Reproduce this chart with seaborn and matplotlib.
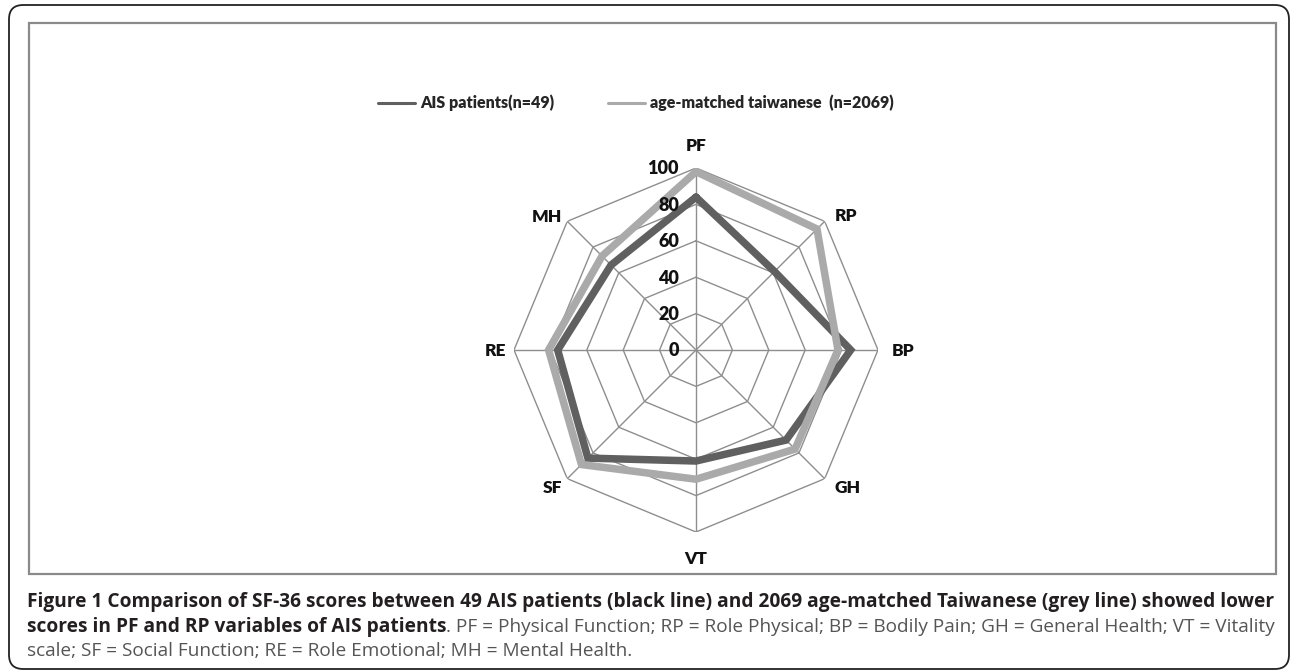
import numpy as np
import pandas as pd
import matplotlib
matplotlib.use("Agg")
import matplotlib.pyplot as plt
import seaborn as sns
from matplotlib.patches import FancyBboxPatch, Rectangle
from matplotlib.lines import Line2D
from matplotlib.transforms import offset_copy

# ---------------- data ----------------
categories = ["PF", "RP", "BP", "GH", "VT", "SF", "RE", "MH"]
ais_values = [84, 61, 85, 70, 61, 84, 76, 66]
taiwan_values = [98, 94, 78, 77, 71, 89, 81, 73]
series_names = ["AIS patients(n=49)", "age-matched taiwanese  (n=2069)"]
r_ticks = [0, 20, 40, 60, 80, 100]

caption_bold_1 = ("Figure 1 Comparison of SF-36 scores between 49 AIS patients (black line) "
                  "and 2069 age-matched Taiwanese (grey line) showed lower")
caption_bold_2 = "scores in PF and RP variables of AIS patients"
caption_norm_2 = (". PF = Physical Function; RP = Role Physical; BP = Bodily Pain; "
                  "GH = General Health; VT = Vitality")
caption_norm_3 = "scale; SF = Social Function; RE = Role Emotional; MH = Mental Health."

# ---------------- style ----------------
sns.set_theme(style="white")
plt.rcParams['font.family'] = ['Lato', 'DejaVu Sans']

W, H = 1292, 672
fig = plt.figure(figsize=(W / 100, H / 100), dpi=100)
fig.patch.set_facecolor("white")

DARK = "#606060"
LIGHT = "#aaaaaa"
GRID = "#8e8e8e"

# frames
outer = FancyBboxPatch((9 / W, 3 / H), 1280 / W, 664 / H,
                       boxstyle="round,pad=0,rounding_size=0.011",
                       transform=fig.transFigure, fill=False,
                       edgecolor="#222222", lw=1.3, mutation_aspect=W / H)
fig.patches.append(outer)
inner = Rectangle((29 / W, (H - 574) / H), (1276 - 29) / W, (574 - 23) / H,
                  transform=fig.transFigure, fill=False, edgecolor="#8a8a8a", lw=1.6)
fig.patches.append(inner)

# radar axes
cx, cy, R = 696, 350, 182
ax = fig.add_axes([(cx - R) / W, (H - cy - R) / H, 2 * R / W, 2 * R / H],
                  projection="polar")
ax.set_theta_zero_location("N")
ax.set_theta_direction(-1)
ax.patch.set_alpha(0)

n = len(categories)
theta = np.linspace(0, 2 * np.pi, n, endpoint=False)
theta_closed = np.append(theta, 2 * np.pi)

for t in r_ticks[1:]:
    ax.plot(theta_closed, [t] * (n + 1), color=GRID, lw=1.0, zorder=1)
for th in theta:
    ax.plot([th, th], [0, r_ticks[-1]], color=GRID, lw=1.0, zorder=1)

rows = []
for name, vals in zip(series_names, [ais_values, taiwan_values]):
    closed = list(vals) + [vals[0]]
    for th, v in zip(theta_closed, closed):
        rows.append({"theta": th, "value": v, "series": name})
df = pd.DataFrame(rows)

sns.lineplot(data=df, x="theta", y="value", hue="series", hue_order=series_names,
             palette=[DARK, LIGHT], sort=False, estimator=None, lw=5.4,
             legend=False, ax=ax, zorder=3, solid_joinstyle="miter")

ax.set_ylim(0, 100)
ax.grid(False)
ax.spines["polar"].set_visible(False)
ax.set_xticks([])
ax.set_yticks([])
ax.set_xlabel("")
ax.set_ylabel("")

# radial tick labels
trans = offset_copy(ax.transData, fig=fig, x=-17, y=-1, units="dots")
for t in r_ticks:
    ax.text(0, t, str(t), transform=trans, ha="right", va="center",
            fontsize=13, fontweight="heavy", color="#111111", zorder=5)

# category labels
label_layout = [
    ("center", "bottom", (0, 14)),
    ("left", "center", (10, 5)),
    ("left", "center", (14, -1)),
    ("left", "center", (10, -9)),
    ("center", "top", (0, -19)),
    ("right", "center", (-5, -9)),
    ("right", "center", (-8, -1)),
    ("right", "center", (-5, 4)),
]
for th, cat, (ha, va, off) in zip(theta, categories, label_layout):
    ax.annotate(cat, xy=(th, 100), xytext=off, textcoords="offset pixels",
                ha=ha, va=va, fontsize=12.5, fontweight="heavy", color="#111111",
                annotation_clip=False)

# legend
handles = [Line2D([], [], color=DARK, lw=2.2), Line2D([], [], color=LIGHT, lw=2.2)]
leg = fig.legend(handles, series_names, loc="center", bbox_to_anchor=(636 / W, 1 - 103 / H),
                 ncol=2, frameon=False, handlelength=2.3, handletextpad=0.3,
                 columnspacing=3.4, prop={"family": "Lato", "weight": "heavy", "size": 11.5})

# caption
renderer = fig.canvas.get_renderer()
x0 = 27
right = 1275

def fit(text_obj, target):
    for _ in range(4):
        w = text_obj.get_window_extent(renderer).width
        text_obj.set_fontsize(text_obj.get_fontsize() * target / w)

t1 = fig.text(x0 / W, 1 - 602 / H, caption_bold_1, ha="left", va="center",
              fontsize=13, fontweight="bold", color="#231f20", family="Open Sans")
fit(t1, right - x0)
fs = t1.get_fontsize()

t2 = fig.text(x0 / W, 1 - 627 / H, caption_bold_2, ha="left", va="center",
              fontsize=fs, fontweight="bold", color="#231f20", family="Open Sans")
w2 = t2.get_window_extent(renderer).width
t2b = fig.text((x0 + w2) / W, 1 - 627 / H, caption_norm_2, ha="left", va="center",
               fontsize=fs, color="#555555", family="Open Sans")
fit(t2b, right - x0 - w2)
t3 = fig.text(x0 / W, 1 - 651 / H, caption_norm_3, ha="left", va="center",
              fontsize=t2b.get_fontsize(), color="#555555", family="Open Sans")

fig.savefig("out.png", dpi=100, facecolor="white")
